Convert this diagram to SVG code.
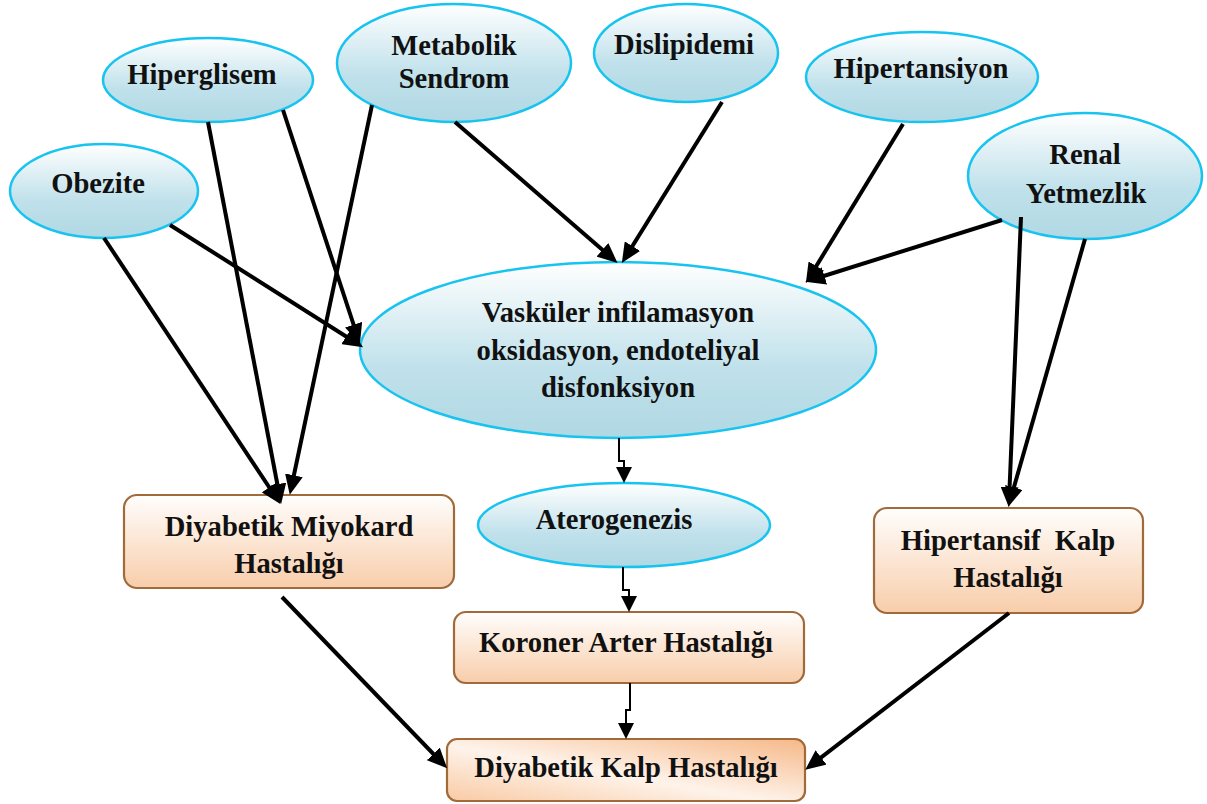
<svg xmlns="http://www.w3.org/2000/svg" width="1207" height="804" viewBox="0 0 1207 804">
<defs>
<linearGradient id="gEll" x1="0" y1="0" x2="0" y2="1">
<stop offset="0" stop-color="#ffffff"/>
<stop offset="0.6" stop-color="#c0e1eb"/>
<stop offset="1" stop-color="#b0d8e3"/>
</linearGradient>
<linearGradient id="gBox" x1="0" y1="0" x2="0" y2="1">
<stop offset="0" stop-color="#fffefd"/>
<stop offset="1" stop-color="#f8cdaa"/>
</linearGradient>
<linearGradient id="gBox2" x1="0" y1="1" x2="1" y2="0">
<stop offset="0" stop-color="#f9caa4"/>
<stop offset="0.45" stop-color="#fef3ea"/>
<stop offset="1" stop-color="#f6b887"/>
</linearGradient>
<marker id="ah" markerUnits="userSpaceOnUse" markerWidth="20" markerHeight="18" viewBox="0 0 20 18" refX="14" refY="9" orient="auto">
<path d="M0,0 L20,9 L0,18 z" fill="#000"/>
</marker>
<marker id="ahs" markerUnits="userSpaceOnUse" markerWidth="16" markerHeight="16" viewBox="0 0 16 16" refX="14" refY="8" orient="auto">
<path d="M0,0 L16,8 L0,16 z" fill="#000"/>
</marker>
</defs>
<style>
.ell{fill:url(#gEll);stroke:#17c4f0;stroke-width:2.5}
.box{fill:url(#gBox);stroke:#a06a3a;stroke-width:2.2}
.box2{fill:url(#gBox2);stroke:#a06a3a;stroke-width:2.2}
text{font-family:"Liberation Serif","Times New Roman",serif;font-weight:bold;font-size:28.6px;fill:#111;text-anchor:middle}
.c{stroke:#000;stroke-width:4;fill:none;marker-end:url(#ah)}
.t{stroke:#000;stroke-width:2;fill:none;marker-end:url(#ahs)}
</style>
<rect width="1207" height="804" fill="#fff"/>
<g id="hiperglisem"><ellipse class="ell" cx="208" cy="80" rx="105" ry="42"/><text x="202" y="84">Hiperglisem</text></g>
<g id="obezite"><ellipse class="ell" cx="104" cy="191" rx="94" ry="47"/><text x="98" y="193">Obezite</text></g>
<g id="metabolik"><ellipse class="ell" cx="454" cy="63" rx="117" ry="59"/><text x="454" y="55">Metabolik</text><text x="454" y="88">Sendrom</text></g>
<g id="dislipidemi"><ellipse class="ell" cx="686" cy="53" rx="92" ry="49"/><text x="684" y="54">Dislipidemi</text></g>
<g id="hipertansiyon"><ellipse class="ell" cx="922" cy="77" rx="116" ry="45"/><text x="921" y="78">Hipertansiyon</text></g>
<g id="renal"><ellipse class="ell" cx="1085" cy="176" rx="117" ry="63"/><text x="1085" y="164">Renal</text><text x="1086" y="203">Yetmezlik</text></g>
<g id="vaskuler"><ellipse class="ell" cx="618" cy="350" rx="258" ry="88"/><text x="618" y="322">Vasküler infilamasyon</text><text x="618" y="360">oksidasyon, endoteliyal</text><text x="618" y="397">disfonksiyon</text></g>
<g id="aterogenezis"><ellipse class="ell" cx="624" cy="525" rx="146" ry="42"/><text x="614" y="529">Aterogenezis</text></g>
<g id="miyokard"><rect class="box" x="124" y="495" width="330" height="93" rx="13"/><text x="289" y="536">Diyabetik Miyokard</text><text x="289" y="573">Hastalığı</text></g>
<g id="hipertansif"><rect class="box" x="874" y="508" width="269" height="105" rx="13"/><text x="1008" y="550" xml:space="preserve">Hipertansif  Kalp</text><text x="1008" y="587">Hastalığı</text></g>
<g id="koroner"><rect class="box" x="454" y="612" width="350" height="71" rx="12"/><text x="626" y="652">Koroner Arter Hastalığı</text></g>
<g id="dkh"><rect class="box2" x="447" y="739" width="358" height="62" rx="10"/><text x="626" y="777">Diyabetik Kalp Hastalığı</text></g>
<g id="connectors">
<path class="c" d="M104,238 L277,499"/>
<path class="c" d="M208,122 L280,498"/>
<path class="c" d="M372,105 L291,489"/>
<path class="c" d="M170,225 L358,344"/>
<path class="c" d="M283,110 L358,338"/>
<path class="c" d="M455,122 L613,259"/>
<path class="c" d="M722,102 L625,258"/>
<path class="c" d="M903,124 L809,278"/>
<path class="c" d="M1002,220 L811,280"/>
<path class="c" d="M1021,217 L1009,501"/>
<path class="c" d="M1085,239 L1010,501"/>
<path class="c" d="M282,597 L443,764"/>
<path class="c" d="M1009,613 L810,766"/>
<path class="t" d="M619,438 V461 H624 V481"/>
<path class="t" d="M623,567 V590 H629 V610"/>
<path class="t" d="M630,683 V710 H626 V737"/>
</g>
</svg>
